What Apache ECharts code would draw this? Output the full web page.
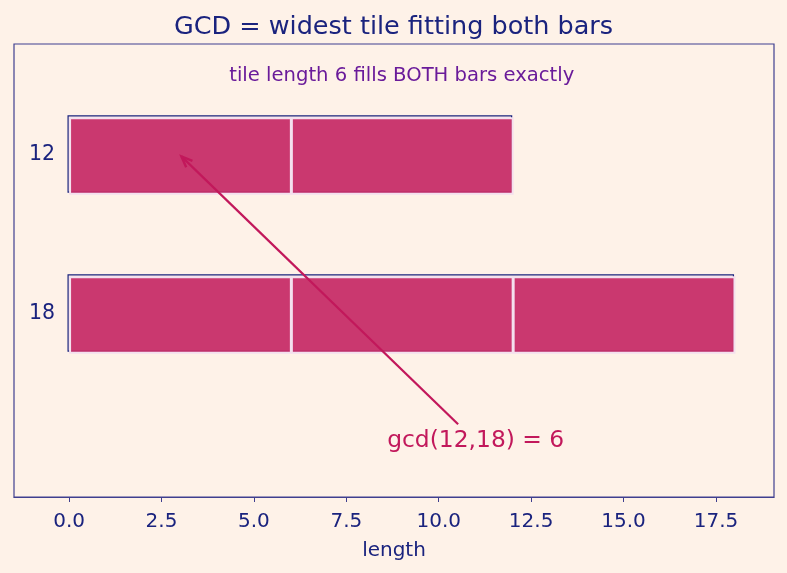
<!DOCTYPE html>
<html>
<head>
<meta charset="utf-8">
<script src="https://cdn.jsdelivr.net/npm/echarts@6/dist/echarts.min.js"></script>
<style>
  html, body { margin: 0; padding: 0; background: #fef2e8; }
  #chart { width: 787px; height: 573px; }
</style>
</head>
<body>
<div id="chart"></div>
<script>
  // bar lengths and their y slot (18 at the bottom, 12 above)
  const barNames = ['18', '12']
  const barLengths = [18, 12]
  const tileLength = 6
  const xTicks = [0, 2.5, 5, 7.5, 10, 12.5, 15, 17.5]
  const noteText = 'tile length 6 fills BOTH bars exactly'
  const noteAt = [9, 1.5]
  const gcdText = 'gcd(12,18) = 6'
  const gcdTextAt = [11, -0.8]
  const arrowTo = [3, 1]

  const navy = '#1a237e'
  const crimson = '#c2185b'
  const frame = '#3f3f8f'
  const font = 'DejaVu Sans'

  /* tiles laid along each bar */
  let tiles = []
  barLengths.forEach((len, i) => {
    for (let s = 0; s < len; s += tileLength) tiles.push([s, s + tileLength, i])
  })
  let outlines = barLengths.map((len, i) => [0, len, i])

  let chart = echarts.init(document.getElementById('chart'))

  const halfH = 0.24

  let option = {
    backgroundColor: '#fef2e8',
    title: {
      text: 'GCD = widest tile fitting both bars',
      left: 'center',
      top: 9,
      textStyle: { color: navy, fontSize: 25.5, fontWeight: 'normal', fontFamily: font }
    },
    grid: {
      left: 14, right: 13, top: 44, bottom: 76,
      outerBoundsMode: 'none',
      containLabel: false,
      show: true, borderColor: frame, borderWidth: 1.2, backgroundColor: 'transparent'
    },
    xAxis: {
      type: 'value',
      min: -1.49, max: 19.07,
      name: 'length',
      nameLocation: 'middle',
      nameGap: 44,
      nameTextStyle: { color: navy, fontSize: 20, fontFamily: font },
      splitLine: { show: false },
      axisLine: { show: true, onZero: false, lineStyle: { color: frame, width: 1.2 } },
      axisTick: { show: true, length: 5, lineStyle: { color: frame }, customValues: xTicks },
      axisLabel: {
        color: navy, fontSize: 20, fontFamily: font, margin: 15,
        customValues: xTicks,
        formatter: v => v.toFixed(1)
      }
    },
    yAxis: {
      type: 'value',
      min: -1.151, max: 1.698,
      splitLine: { show: false },
      axisLine: { show: false, onZero: false },
      axisTick: { show: false },
      axisLabel: {
        inside: true,
        color: navy, fontSize: 20.5, fontFamily: font, margin: 15,
        customValues: [0, 1],
        formatter: v => barNames[Math.round(v)] || ''
      }
    },
    series: [
      {
        type: 'custom',
        name: 'outline',
        silent: true,
        data: outlines,
        renderItem: (params, api) => {
          let a = api.coord([api.value(0), api.value(2) + halfH])
          let b = api.coord([api.value(1), api.value(2) - halfH])
          return {
            type: 'rect',
            shape: { x: a[0] - 1, y: a[1] - 1, width: b[0] - a[0], height: b[1] - a[1] },
            style: { fill: 'none', stroke: navy, lineWidth: 1.2 }
          }
        }
      },
      {
        type: 'custom',
        name: 'tiles',
        silent: true,
        data: tiles,
        renderItem: (params, api) => {
          let a = api.coord([api.value(0), api.value(2) + halfH])
          let b = api.coord([api.value(1), api.value(2) - halfH])
          return {
            type: 'rect',
            shape: { x: a[0] + 1, y: a[1] + 1.5, width: b[0] - a[0] - 1, height: b[1] - a[1] - 1 },
            style: { fill: 'rgba(197,40,100,0.92)', stroke: '#f4e0ee', lineWidth: 2 }
          }
        }
      },
      {
        type: 'custom',
        name: 'arrow',
        silent: true,
        data: [[gcdTextAt[0], gcdTextAt[1], arrowTo[0], arrowTo[1]]],
        renderItem: (params, api) => {
          let p0 = api.coord([api.value(0), api.value(1)])
          let p1 = api.coord([api.value(2), api.value(3)])
          let dx = p1[0] - p0[0], dy = p1[1] - p0[1]
          let L = Math.sqrt(dx * dx + dy * dy)
          let ux = dx / L, uy = dy / L
          // start at the top of the text box, stop a little short of the target
          let t0 = 17 / Math.abs(dy) * L
          let s = [p0[0] + ux * t0, p0[1] + uy * t0]
          let e = [p1[0] - ux * 2, p1[1] - uy * 2]
          let hl = 11, hw = 4.5
          let base = [e[0] - ux * hl, e[1] - uy * hl]
          let left = [base[0] - uy * hw, base[1] + ux * hw]
          let right = [base[0] + uy * hw, base[1] - ux * hw]
          return {
            type: 'group',
            children: [
              { type: 'line', shape: { x1: s[0], y1: s[1], x2: e[0], y2: e[1] },
                style: { stroke: crimson, lineWidth: 2.2 } },
              { type: 'polyline', shape: { points: [left, e, right] },
                style: { stroke: crimson, lineWidth: 2.4, fill: 'none' } }
            ]
          }
        }
      },
      {
        type: 'scatter',
        name: 'notes',
        silent: true,
        symbolSize: 0,
        itemStyle: { opacity: 1 },
        data: [
          { value: noteAt, label: { formatter: noteText, color: '#6a1b9a', fontSize: 19.6 } },
          { value: gcdTextAt, label: { formatter: gcdText, color: crimson, fontSize: 23.4 } }
        ],
        label: {
          show: true, position: 'inside', align: 'center', verticalAlign: 'middle',
          fontFamily: font
        }
      }
    ]
  }
  chart.setOption(option)
</script>
</body>
</html>
